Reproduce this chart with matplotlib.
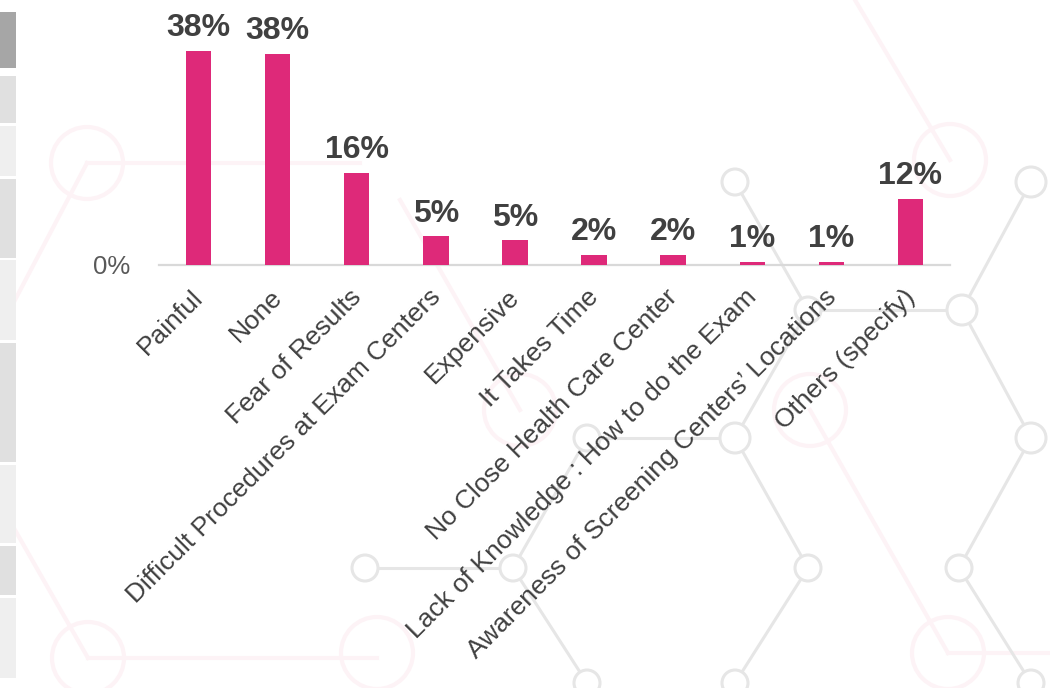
import matplotlib
matplotlib.use('Agg')
import matplotlib.pyplot as plt
from matplotlib.patches import Circle, Rectangle
import matplotlib.transforms as mtransforms

# ---------------- data ----------------
categories = ["Painful", "None", "Fear of Results",
              "Difficult Procedures at Exam Centers", "Expensive",
              "It Takes Time", "No Close Health Care Center",
              "Lack of Knowledge : How to do the Exam",
              "Awareness of Screening Centers\u2019 Locations",
              "Others (specify)"]
values = [38.0, 37.4, 16.3, 5.1, 4.4, 1.8, 1.8, 0.6, 0.6, 11.7]
value_labels = ["38%", "38%", "16%", "5%", "5%", "2%", "2%", "1%", "1%", "12%"]
y_ticks = [0]
y_tick_labels = ["0%"]

# ---------------- style ----------------
W, H = 1050, 688
BAR = '#DE2979'
TXT = '#404040'
plt.rcParams['font.family'] = ['Liberation Sans', 'DejaVu Sans']

fig = plt.figure(figsize=(W / 100, H / 100), dpi=100)
fig.patch.set_facecolor('white')

# background decoration axes in pixel coordinates
bg = fig.add_axes([0, 0, 1, 1], zorder=0)
bg.set_xlim(0, W)
bg.set_ylim(H, 0)
bg.axis('off')

# left side slide blocks
blocks = [(12, 68, '#a6a6a6'), (76, 123, '#e0e0e0'), (126, 176, '#efefef'),
          (179, 258, '#e0e0e0'), (260, 340, '#efefef'), (343, 462, '#e0e0e0'),
          (465, 543, '#efefef'), (546, 595, '#e0e0e0'), (598, 678, '#efefef')]
for y0, y1, c in blocks:
    bg.add_patch(Rectangle((0, y0), 16, y1 - y0, facecolor=c, edgecolor='none'))

# faint pink network
pk = '#fdf3f6'
pnodes = {'p1': (87, 163), 'p2': (88, 658), 'p3': (950, 160), 'p4': (948, 653),
          'p5': (377, 653), 'p6': (810, 410), 'p7': (520, 410)}
pedges = [((87, 163), (360, 163)), ((87, 163), (15, 300)), ((88, 658), (377, 658)),
          ((88, 658), (15, 530)), ((950, 160), (855, 0)), ((400, 200), (520, 410)),
          ((810, 410), (948, 653)), ((948, 653), (1050, 653))]
for (x0, y0), (x1, y1) in pedges:
    bg.plot([x0, x1], [y0, y1], color=pk, lw=3, zorder=0.5)
for k, (x, y) in pnodes.items():
    bg.add_patch(Circle((x, y), 36, facecolor='none', edgecolor=pk, lw=3, zorder=0.6))

# faint gray molecule network
g = '#e6e6e6'
gnodes = {'a': (735, 182), 'b': (1031, 182), 'c': (808, 310), 'd': (962, 310),
          'e': (587, 438), 'f': (735, 438), 'h': (1031, 438),
          'i': (365, 568), 'j': (513, 568), 'k': (808, 568), 'l': (959, 568),
          'm': (587, 683), 'n': (735, 683), 'o': (1031, 683)}
gedges = [('a', 'c'), ('b', 'd'), ('c', 'd'), ('c', 'f'), ('d', 'h'),
          ('e', 'f'), ('e', 'j'), ('i', 'j'), ('j', 'm'), ('f', 'k'),
          ('k', 'n'), ('h', 'l'), ('l', 'o')]
for p, q in gedges:
    (x0, y0), (x1, y1) = gnodes[p], gnodes[q]
    bg.plot([x0, x1], [y0, y1], color=g, lw=2.2, solid_capstyle='round', zorder=1)
for k, (x, y) in gnodes.items():
    r = 15 if k in ('b', 'd', 'h', 'f') else 13
    bg.add_patch(Circle((x, y), r, facecolor='white', edgecolor=g, lw=2.2, zorder=2))

# ---------------- main chart ----------------
px_per_pct = 5.64
base_y = 265
left, right = 159, 950
ymax = base_y / px_per_pct
ax = fig.add_axes([left / W, (H - base_y) / H, (right - left) / W, base_y / H], zorder=2)
ax.patch.set_alpha(0)

xs = list(range(len(categories)))
ax.bar(xs, values, width=0.32, color=BAR, zorder=3)
ax.set_xlim(-0.5, len(categories) - 0.5)
ax.set_ylim(0, ymax)

for x, v, lab in zip(xs, values, value_labels):
    ax.annotate(lab, (x, v), xytext=(0, 5.5), textcoords='offset points',
                ha='center', va='bottom', fontsize=23, fontweight='bold',
                color=TXT, zorder=4)

for s in ('top', 'right', 'left'):
    ax.spines[s].set_visible(False)
ax.spines['bottom'].set_color('#d9d9d9')
ax.spines['bottom'].set_linewidth(1.6)

ax.set_yticks(y_ticks)
ax.set_yticklabels(y_tick_labels, fontsize=18.5, color='#595959')
ax.tick_params(axis='y', length=0, pad=21)

ax.set_xticks(xs)
ax.set_xticklabels(categories, rotation=45, ha='right', va='center',
                   rotation_mode='anchor', fontsize=19, color=TXT)
ax.tick_params(axis='x', length=0, pad=20.5)
off = mtransforms.ScaledTranslation(1 / 100, 0, fig.dpi_scale_trans)
for t in ax.get_xticklabels():
    t.set_transform(t.get_transform() + off)

fig.savefig('out.png', dpi=100, facecolor='white')
